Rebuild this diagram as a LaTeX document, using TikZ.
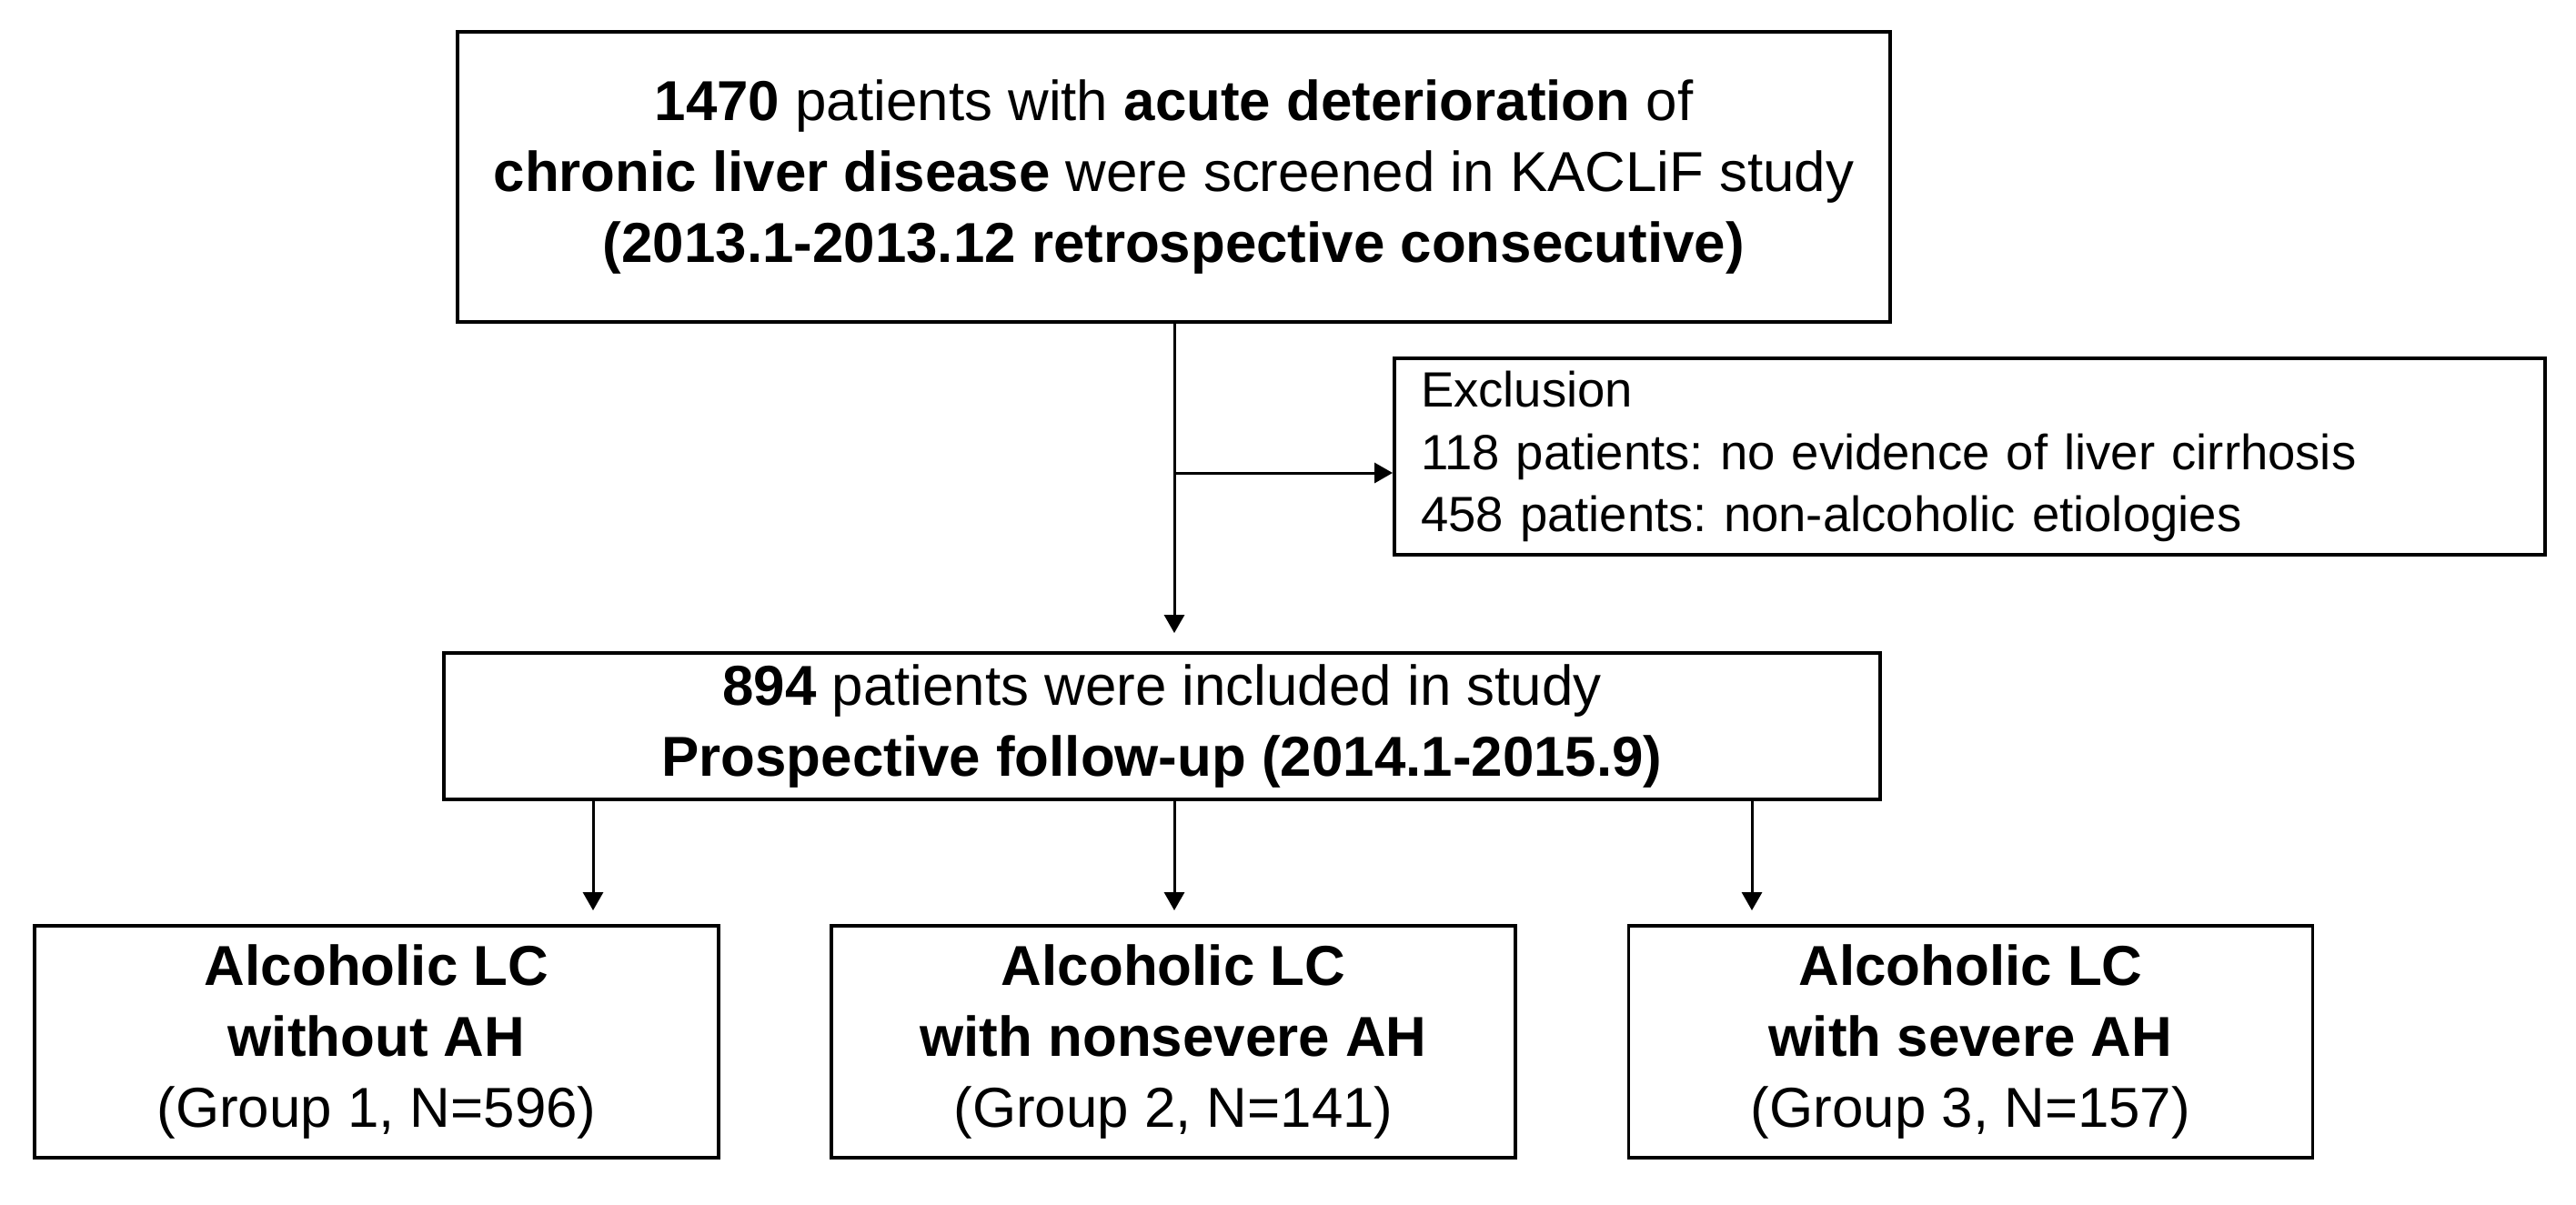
\documentclass[tikz,border=0pt]{standalone}
\usepackage{fontspec}
\setmainfont{Liberation Sans}
\usepackage{tikz}
\usetikzlibrary{calc}
\usetikzlibrary{arrows.meta}
\usetikzlibrary{positioning}
\frenchspacing

\begin{document}
\begin{tikzpicture}[x=1cm,y=-1cm]
% 1 = 100px, y runs downwards
    \def\XTRUNK{12.91} %main down line
    \def\YBRANCH{5.20} %branch to exclusion
    \def\YGROUP{11.455} %centre of group boxes
    \def\GROUPW{7.52cm} %width of group boxes
    \def\GROUPH{2.55cm}

    \tikzset{
      box/.style={draw, line width=1.1pt, align=center, inner sep=0pt,
        font=\fontsize{17.6}{22.2}\selectfont},
      groupbox/.style={box, minimum width=\GROUPW, minimum height=\GROUPH},
      flow/.style={-{Triangle[width=0.22cm,length=0.2cm]}, line width=0.85pt},
    }

    \useasboundingbox (0,0) rectangle (28.32,13.24);

    % SCREENED
    \node[box, minimum width=15.75cm, minimum height=3.19cm] (screen) at (12.905,1.945)
        {\textbf{1470} patients with \textbf{acute deterioration} of\\
         \textbf{chronic liver disease} were screened in KACLiF study\\
         \textbf{(2013.1-2013.12 retrospective consecutive)}};

    % EXCLUSION
    \node[box, align=left, minimum height=2.16cm, text width=12.07cm, inner xsep=0.29cm,
        font=\fontsize{15.5}{19.6}\selectfont] (excl) at (21.655,5.02)
        {Exclusion\\
         118 patients: no evidence of liver cirrhosis\\
         458 patients: non-alcoholic etiologies};

    % INCLUDED
    \node[box, minimum width=15.79cm, minimum height=1.61cm] (incl) at (12.775,7.985)
        {\textbf{894} patients were included in study\\
         \textbf{Prospective follow-up (2014.1-2015.9)}};

    % GROUPS
    \node[groupbox] (gone) at (4.14,\YGROUP)
        {\textbf{Alcoholic LC}\\ \textbf{without AH}\\ (Group 1, N=596)};
    \node[groupbox] (gtwo) at (12.90,\YGROUP)
        {\textbf{Alcoholic LC}\\ \textbf{with nonsevere AH}\\ (Group 2, N=141)};
    \node[groupbox] (gthree) at (21.665,\YGROUP)
        {\textbf{Alcoholic LC}\\ \textbf{with severe AH}\\ (Group 3, N=157)};

    % ARROWS
    \coordinate (trunk) at (\XTRUNK,\YBRANCH);
    \coordinate (dropone) at (6.52,0);
    \coordinate (droptwo) at (\XTRUNK,0);
    \coordinate (dropthree) at (19.26,0);

    \draw[flow, shorten >=0.2cm] (screen.south -| trunk) -- (incl.north -| trunk);
    \draw[flow] (trunk) -- (trunk -| excl.west);

    \foreach \drop/\grp in {dropone/gone, droptwo/gtwo, dropthree/gthree}
        \draw[flow, shorten >=0.15cm] (incl.south -| \drop) -- (\grp.north -| \drop);

\end{tikzpicture}
\end{document}
